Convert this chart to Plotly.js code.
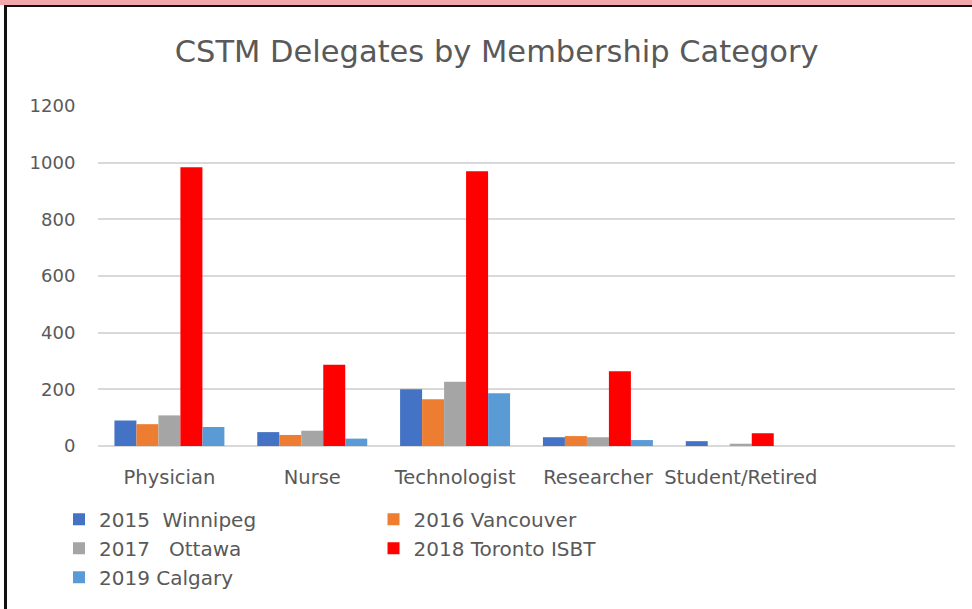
<!DOCTYPE html>
<html>
<head>
<meta charset="utf-8">
<script src="https://cdn.plot.ly/plotly-3.0.1.min.js"></script>
<style>
  html, body { margin: 0; padding: 0; background: #ffffff; }
  #wrap { position: relative; width: 972px; height: 609px; overflow: hidden; }
  #chart { position: absolute; left: 0; top: 0; width: 972px; height: 609px; }
  #pink { position: absolute; left: 0; top: 0; width: 972px; height: 5px; background: #f2a7ab; pointer-events: none; }
  #topline { position: absolute; left: 4px; top: 5px; width: 968px; height: 2px; background: #111111; pointer-events: none; }
  #leftline { position: absolute; left: 4px; top: 5px; width: 3px; height: 604px; background: #111111; pointer-events: none; }
</style>
</head>
<body>
<div id="wrap">
  <div id="chart"></div>
  <div id="pink"></div>
  <div id="topline"></div>
  <div id="leftline"></div>
</div>
<script>
const categories = ["Physician", "Nurse", "Technologist", "Researcher", "Student/Retired", " "];
const seriesNames = ["2015  Winnipeg", "2016 Vancouver", "2017   Ottawa", "2018 Toronto ISBT", "2019 Calgary"];
const seriesColors = ["#4472c4", "#ed7d31", "#a5a5a5", "#ff0000", "#5b9bd5"];
const winnipeg2015  = [90, 49, 200, 31, 17, null];
const vancouver2016 = [77, 39, 165, 35, 0, null];
const ottawa2017    = [108, 54, 227, 31, 8, null];
const toronto2018   = [984, 287, 970, 264, 45, null];
const calgary2019   = [67, 26, 186, 21, 0, null];
const seriesValues = [winnipeg2015, vancouver2016, ottawa2017, toronto2018, calgary2019];
const legendColumn = ["legend", "legend2", "legend", "legend2", "legend"];
const yTicks = [0, 200, 400, 600, 800, 1000, 1200];

const FONT = "DejaVu Sans, Open Sans, sans-serif";
const GREY = "#595959";

const traces = seriesNames.map((name, i) => ({
  type: "bar",
  name: name,
  x: categories,
  y: seriesValues[i],
  legend: legendColumn[i],
  marker: { color: seriesColors[i], line: { width: 0 } },
  hoverinfo: "x+y+name"
}));

const legendBase = {
  orientation: "v",
  xanchor: "left",
  yanchor: "top",
  traceorder: "normal",
  font: { family: FONT, size: 20, color: GREY },
  bgcolor: "rgba(0,0,0,0)",
  borderwidth: 0
};

const layout = {
  width: 972,
  height: 609,
  margin: { l: 98, r: 17, t: 106, b: 163 },
  paper_bgcolor: "#ffffff",
  plot_bgcolor: "#ffffff",
  barmode: "group",
  bargap: 0.23,
  bargroupgap: 0,
  title: {
    text: "CSTM Delegates by Membership Category",
    font: { family: FONT, size: 30.5, color: GREY },
    x: 0.511, xanchor: "center",
    y: 0.915, yanchor: "middle"
  },
  xaxis: {
    type: "category",
    categoryorder: "array",
    categoryarray: categories,
    range: [-0.5, 5.5],
    showgrid: false,
    showline: false,
    zeroline: false,
    ticks: "outside",
    ticklen: 14,
    tickcolor: "rgba(0,0,0,0)",
    tickfont: { family: FONT, size: 19.5, color: GREY },
    fixedrange: true
  },
  yaxis: {
    range: [0, 1200],
    tickvals: yTicks,
    ticktext: yTicks.map(String),
    showgrid: true,
    gridcolor: "#d9d9d9",
    gridwidth: 2,
    zeroline: true,
    zerolinecolor: "#d9d9d9",
    zerolinewidth: 2,
    showline: false,
    ticks: "outside",
    ticklen: 18,
    tickcolor: "rgba(0,0,0,0)",
    tickfont: { family: FONT, size: 18, color: GREY },
    fixedrange: true
  },
  showlegend: true,
  legend: Object.assign({}, legendBase, { x: -0.0455, y: -0.158 }),
  legend2: Object.assign({}, legendBase, { x: 0.3215, y: -0.158 })
};

Plotly.newPlot("chart", traces, layout, { displayModeBar: false, staticPlot: true });
</script>
</body>
</html>
